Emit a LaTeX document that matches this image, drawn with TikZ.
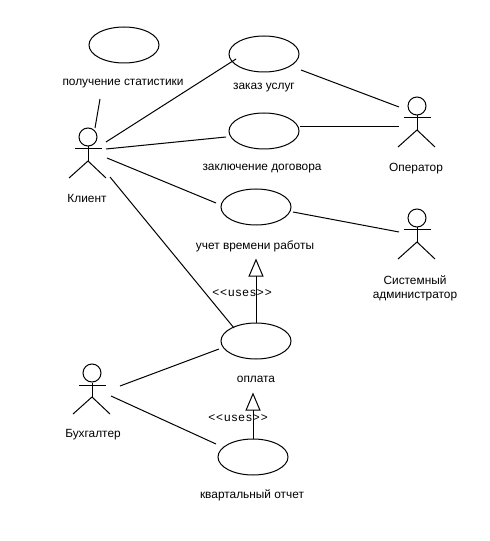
\documentclass[tikz,border=0pt]{standalone}
\usepackage{fontspec}
\setmainfont{Liberation Sans}
\usetikzlibrary{arrows.meta,calc,shapes.geometric}

\tikzset{
  usecase/.style={draw, ellipse, minimum width=52.5pt, minimum height=27pt, inner sep=0pt},
  head/.style={draw, circle, minimum size=13.5pt, inner sep=0pt},
  lbl/.style={align=center, inner sep=0pt, yshift=-1pt},
  stereo/.style={lbl, font=\fontsize{8.9}{11.2}\selectfont\addfontfeature{LetterSpace=8}},
  uses/.style={-{Triangle[open, length=13.5pt, width=11.25pt]}}
}
% one stick figure, hung from its head node
\newcommand{\actor}[3]{
  \node[head] (#1) at (#2,#3) {};
  \draw ($(#1)+(-13.5,12)$) -- ($(#1)+(13.5,12)$);
  \draw (#1.south) -- ($(#1)+(0,24)$);
  \draw ($(#1)+(-19,41)$) -- ($(#1)+(0,24)$) -- ($(#1)+(18,41)$);
}

\begin{document}
\begin{tikzpicture}[x=0.75pt, y=-0.75pt, line width=0.75pt, font=\fontsize{8.9}{11.2}\selectfont]
    \useasboundingbox (0,0) rectangle (489,541);

    % use cases
    \node[usecase] (stat) at (124,45) {};
    \node[usecase] (zakaz) at (264,54) {};
    \node[usecase] (dogovor) at (264,131) {};
    \node[usecase] (uchet) at (256,207) {};
    \node[usecase] (oplata) at (256,341) {};
    \node[usecase] (kvartal) at (253,457) {};

    \node[lbl] (statL) at (123,82) {получение статистики};
    \node[lbl] (zakazL) at (264,86) {заказ услуг};
    \node[lbl] (dogovorL) at (262,167) {заключение договора};
    \node[lbl] (uchetL) at (255,245) {учет времени работы};
    \node[lbl] (oplataL) at (256,378) {оплата};
    \node[lbl] (kvartalL) at (252,494) {квартальный отчет};

    % actors
    \actor{klient}{88}{137}
    \actor{operator}{417}{106}
    \actor{sysadm}{417}{218}
    \actor{buh}{92}{373}

    \node[lbl] (klientL) at (87,197) {Клиент};
    \node[lbl] (operatorL) at (416,167) {Оператор};
    \node[lbl] (sysadmL) at (415,287) {Системный\\администратор};
    \node[lbl] (buhL) at (93,433) {Бухгалтер};

    % associations
    \draw ($(klient)+(7,-9)$) -- ($(stat)+(-24,54)$);
    \draw ($(klient)+(18,5)$) -- ($(zakaz)+(-28,5)$);
    \draw ($(klient)+(18,12)$) -- ($(dogovor)+(-38,6)$);
    \draw ($(klient)+(19,21)$) -- ($(uchet)+(-40,-4)$);
    \draw ($(klient)+(22,40)$) -- ($(oplata)+(-22,-13)$);
    \draw ($(zakaz)+(37,16)$) -- ($(operator)+(-18,1)$);
    \draw ($(dogovor)+(36,-4)$) -- ($(operator)+(-18,21)$);
    \draw ($(uchet)+(37,5)$) -- ($(sysadm)+(-18,14)$);
    \draw ($(buh)+(28,13)$) -- ($(oplata)+(-37,8)$);
    \draw ($(buh)+(19,23)$) -- ($(kvartal)+(-37,-13)$);

    % uses arrows
    \draw[uses] (oplata.north) -- ($(uchet.south)+(0,33)$);
    \draw[uses] (kvartal.north) -- ($(oplata.south)+(-3,33)$);
    \node[stereo] (uses1) at (242,292) {<{}<uses>{}>};
    \node[stereo] (uses2) at (238,417) {<{}<uses>{}>};
\end{tikzpicture}
\end{document}
